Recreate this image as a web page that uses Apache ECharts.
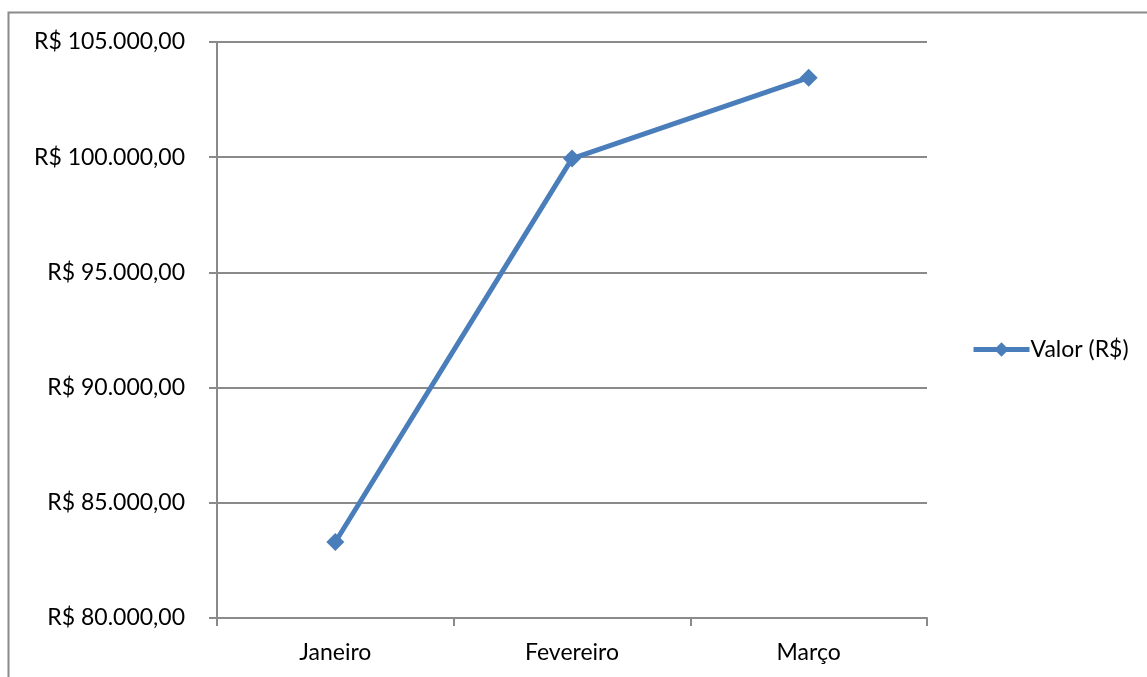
<!DOCTYPE html>
<html>
<head>
<meta charset="utf-8">
<script src="https://cdn.jsdelivr.net/npm/echarts@6/dist/echarts.min.js"></script>
<style>
  html, body { margin: 0; padding: 0; background: #fff; }
  #chart { width: 1147px; height: 677px; }
</style>
</head>
<body>
<div id="chart"></div>
<script>
// dados
const categorias = ["Janeiro", "Fevereiro", "Março"];
const valores = [83300, 99940, 103450];
const nomeSerie = "Valor (R$)";
const eixoMin = 80000;
const eixoMax = 105000;
const eixoPasso = 5000;

const fonte = "Lato, 'Open Sans', sans-serif";
const cinza = "#8a8a8a";
const azul = "#4a7ebb";

function formatarReal(v) {
  // R$ 105.000,00
  const inteiro = Math.round(v).toString().replace(/\B(?=(\d{3})+(?!\d))/g, ".");
  return "R$ " + inteiro + ",00";
}

const chart = echarts.init(document.getElementById("chart"));

const option = {
  animation: false,
  backgroundColor: "#fff",
  graphic: [
    {
      type: "rect",
      shape: { x: 8.5, y: 12.5, width: 1300, height: 1000 },
      style: { fill: "none", stroke: cinza, lineWidth: 2 },
      silent: true
    }
  ],
  grid: { left: 217, right: 220, top: 42, bottom: 59 },
  legend: {
    left: 966,
    top: 333,
    itemWidth: 56,
    itemHeight: 18,
    itemGap: 0,
    lineStyle: { width: 5 },
    textStyle: { fontFamily: fonte, fontSize: 23, color: "#000", padding: [0, 0, 0, -4] },
    data: [{ name: nomeSerie }]
  },
  xAxis: {
    type: "category",
    data: categorias,
    boundaryGap: true,
    axisLine: { lineStyle: { color: cinza, width: 2 } },
    axisTick: { show: true, length: 8, lineStyle: { color: cinza, width: 2 } },
    axisLabel: { fontFamily: fonte, fontSize: 23, color: "#000", margin: 23 }
  },
  yAxis: {
    type: "value",
    min: eixoMin,
    max: eixoMax,
    interval: eixoPasso,
    axisLine: { show: true, lineStyle: { color: cinza, width: 2 } },
    axisTick: { show: true, length: 8, lineStyle: { color: cinza, width: 2 } },
    splitLine: { lineStyle: { color: cinza, width: 2 } },
    axisLabel: {
      fontFamily: fonte,
      fontSize: 23,
      color: "#000",
      margin: 32,
      formatter: formatarReal
    }
  },
  series: [
    {
      name: nomeSerie,
      type: "line",
      data: valores,
      color: azul,
      symbol: "diamond",
      symbolSize: 18,
      lineStyle: { width: 5, color: azul },
      itemStyle: { color: azul }
    }
  ]
};

chart.setOption(option);
</script>
</body>
</html>
